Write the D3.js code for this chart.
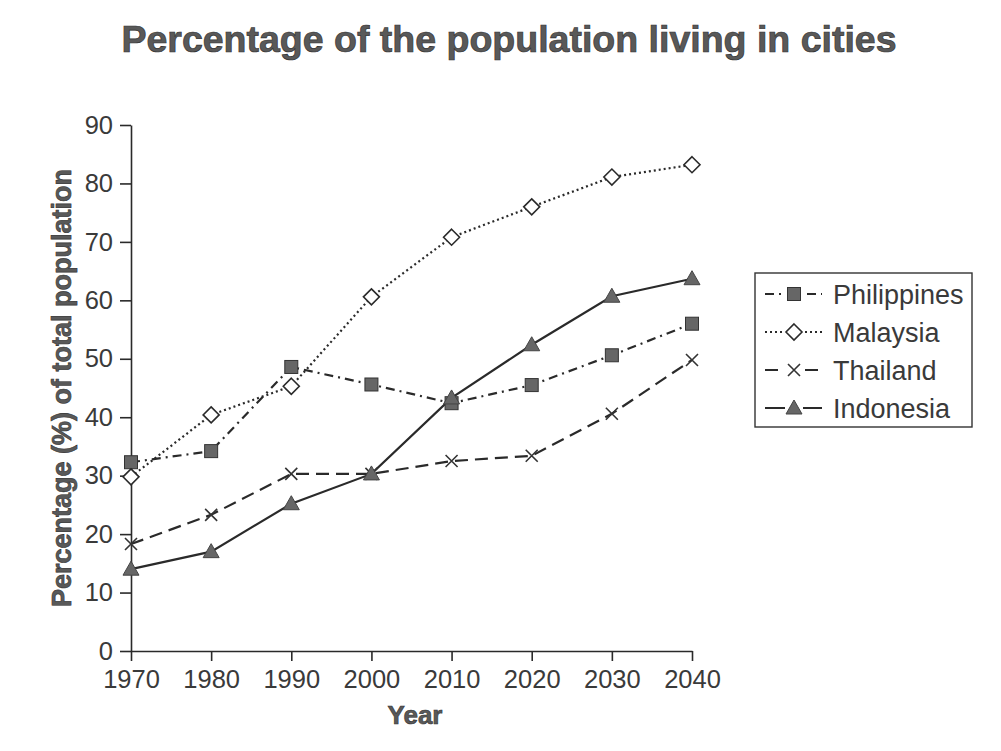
<!DOCTYPE html>
<html>
<head>
<meta charset="utf-8">
<script src="https://cdn.jsdelivr.net/npm/d3@7"></script>
<style>
  body { margin: 0; background: #fff; }
  svg { display: block; }
</style>
</head>
<body>
<svg id="canvas" width="1001" height="751"></svg>
<script>
// data
let years = [1970, 1980, 1990, 2000, 2010, 2020, 2030, 2040]
let philippines = [32.3, 34.2, 48.6, 45.6, 42.4, 45.5, 50.6, 56.0]
let malaysia    = [29.8, 40.4, 45.3, 60.6, 70.8, 76.0, 81.1, 83.2]
let thailand    = [18.3, 23.3, 30.3, 30.3, 32.5, 33.4, 40.6, 49.8]
let indonesia   = [14.0, 17.0, 25.2, 30.3, 43.3, 52.4, 60.7, 63.7]
let yTicks = [0, 10, 20, 30, 40, 50, 60, 70, 80, 90]

let seriesNames = ["Philippines", "Malaysia", "Thailand", "Indonesia"]
let seriesValues = [philippines, malaysia, thailand, indonesia]
let dashes = ["9,5,2,5", "2,3", "13,7", null]
let markers = ["square", "diamond", "cross", "triangle"]

let canvas = d3.select("#canvas")
let ink = "#2a2a2a"
let font = "'Liberation Sans', Arial, sans-serif"

let x = d3.scaleLinear().domain([1970, 2040]).range([131, 692])
let y = d3.scaleLinear().domain([0, 90]).range([651, 125])

// title
canvas.append("text")
    .attr("x", 509).attr("y", 52)
    .attr("text-anchor", "middle")
    .style("font-family", font).style("font-weight", "bold").style("font-size", "37.5px")
    .attr("fill", "#595959").attr("stroke", "#333").attr("stroke-width", 0.7)
    .text("Percentage of the population living in cities")

// axes
let yAxis = d3.axisLeft(y).tickValues(yTicks).tickSize(11).tickSizeOuter(0).tickPadding(7)
let xAxis = d3.axisBottom(x).tickValues(years).tickSize(10).tickSizeOuter(0).tickPadding(9).tickFormat(d3.format("d"))

let gy = canvas.append("g").attr("transform", "translate(131,0)").call(yAxis)
let gx = canvas.append("g").attr("transform", "translate(0,651)").call(xAxis)

;[gx, gy].forEach(g => {
    g.selectAll("path, line").attr("stroke", ink).attr("stroke-width", 1.6)
    g.selectAll("text")
        .style("font-family", font).style("font-size", "25.5px")
        .attr("fill", "#3a3a3a")
})

// axis titles
canvas.append("text")
    .attr("transform", "translate(71,388) rotate(-90)")
    .attr("text-anchor", "middle")
    .style("font-family", font).style("font-weight", "bold").style("font-size", "27px")
    .attr("fill", "#595959").attr("stroke", "#333").attr("stroke-width", 0.6)
    .text("Percentage (%) of total population")

canvas.append("text")
    .attr("x", 415).attr("y", 724)
    .attr("text-anchor", "middle")
    .style("font-family", font).style("font-weight", "bold").style("font-size", "26px")
    .attr("fill", "#595959").attr("stroke", "#333").attr("stroke-width", 0.6)
    .text("Year")

// marker drawing
drawMarker = (g, type) => {
    switch (type) {
        case "square":
            g.append("rect").attr("x", -6.5).attr("y", -6.5).attr("width", 13).attr("height", 13)
                .attr("fill", "#666").attr("stroke", "#333").attr("stroke-width", 1)
            break
        case "diamond":
            g.append("path").attr("d", "M0,-8L8,0L0,8L-8,0Z")
                .attr("fill", "#fff").attr("stroke", ink).attr("stroke-width", 1.6)
            break
        case "cross":
            g.append("path").attr("d", "M-6,-6L6,6M-6,6L6,-6")
                .attr("fill", "none").attr("stroke", "#333").attr("stroke-width", 1.6)
            break
        case "triangle":
            g.append("path").attr("d", "M0,-8L8,6L-8,6Z")
                .attr("fill", "#666").attr("stroke", "#444").attr("stroke-width", 1)
            break
    }
}

let line = d3.line().x((d, i) => x(years[i])).y(d => y(d))

seriesValues.forEach((vals, s) => {
    canvas.append("path")
        .datum(vals)
        .attr("d", line)
        .attr("fill", "none")
        .attr("stroke", ink)
        .attr("stroke-width", 2.2)
        .attr("stroke-dasharray", dashes[s])
})

seriesValues.forEach((vals, s) => {
    canvas.selectAll(null)
        .data(vals)
        .enter()
        .append("g")
        .attr("transform", (d, i) => "translate(" + x(years[i]) + "," + y(d) + ")")
        .each(function () { drawMarker(d3.select(this), markers[s]) })
})

// legend
let legend = canvas.append("g").attr("transform", "translate(755,273)")
legend.append("rect")
    .attr("width", 217).attr("height", 154)
    .attr("fill", "#fff").attr("stroke", "#333").attr("stroke-width", 1.4)

let rowY = d3.scalePoint().domain(seriesNames).range([21, 135])

seriesNames.forEach((name, s) => {
    let row = legend.append("g").attr("transform", "translate(0," + rowY(name) + ")")
    row.append("line")
        .attr("x1", 10).attr("x2", 67).attr("y1", 0).attr("y2", 0)
        .attr("stroke", ink).attr("stroke-width", 2.2)
        .attr("stroke-dasharray", dashes[s])
    let m = row.append("g").attr("transform", "translate(39,0)")
    m.append("rect").attr("x", -9).attr("y", -8).attr("width", 18).attr("height", 16).attr("fill", "#fff")
    drawMarker(m, markers[s])
    row.append("text")
        .attr("x", 78).attr("y", 9.5)
        .style("font-family", font).style("font-size", "27px")
        .attr("fill", "#3a3a3a")
        .text(name)
})
</script>
</body>
</html>
